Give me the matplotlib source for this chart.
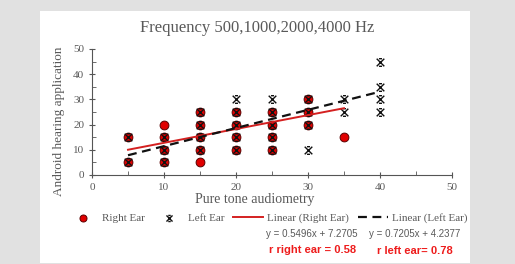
import numpy as np
import matplotlib
matplotlib.use('Agg')
import matplotlib.pyplot as plt
from matplotlib.path import Path

# data
right_x = [5, 5, 10, 10, 10, 10, 15, 15, 15, 15, 15, 20, 20, 20, 20, 25, 25, 25, 25, 30, 30, 30, 35]
right_y = [5, 15, 5, 10, 15, 20, 5, 10, 15, 20, 25, 10, 15, 20, 25, 10, 15, 20, 25, 20, 25, 30, 15]
left_x = [5, 5, 10, 10, 10, 15, 15, 15, 15, 20, 20, 20, 20, 20, 25, 25, 25, 25, 25,
          30, 30, 30, 30, 35, 35, 40, 40, 40, 40]
left_y = [5, 15, 5, 10, 15, 10, 15, 20, 25, 10, 15, 20, 25, 30, 10, 15, 20, 25, 30,
          10, 20, 25, 30, 25, 30, 25, 30, 35, 45]
right_fit = [0.5496, 7.2705]
left_fit = [0.7205, 4.2377]
right_r = 0.58
left_r = 0.78

grey = '#595959'
serif = ['Liberation Serif', 'DejaVu Serif']
sans = ['Liberation Sans', 'DejaVu Sans']

# excel style x marker (x with short caps)
xcap = Path([(-1, -1), (1, 1), (-1, 1), (1, -1), (-0.4, 1), (0.4, 1), (-0.4, -1), (0.4, -1)],
            [Path.MOVETO, Path.LINETO] * 4)

fig = plt.figure(figsize=(5.15, 2.64), dpi=100)
fig.patch.set_facecolor('#e1e1e1')
# white panel
fig.add_artist(plt.Rectangle((40 / 515, 1 / 264), 430 / 515, 252 / 264,
                             transform=fig.transFigure, facecolor='white',
                             edgecolor='none', zorder=0))

ax = fig.add_axes([92 / 515, 89 / 264, 360 / 515, 126 / 264])
ax.set_facecolor('none')

ax.scatter(right_x, right_y, s=40, color='#e00000', edgecolor='#5a0000',
           linewidth=0.7, zorder=3, label='Right Ear')
ax.scatter(left_x, left_y, s=30, marker=xcap, color='#111111', linewidth=1.0,
           zorder=4, label='Left Ear')

xr = np.array([min(right_x), max(right_x)])
xl = np.array([min(left_x), max(left_x)])
ax.plot(xr, np.polyval(right_fit, xr), color='#d42020', lw=1.4, zorder=5,
        label='Linear (Right Ear)')
ax.plot(xl, np.polyval(left_fit, xl), color='#111111', lw=1.6, ls=(0, (4, 2.5)),
        zorder=5, label='Linear (Left Ear)')

ax.set_xlim(0, 50)
ax.set_ylim(0, 50)
ax.set_xticks(range(0, 51, 10))
ax.set_yticks(range(0, 51, 10))
ax.set_xticks(range(5, 50, 10), minor=True)
ax.set_yticks(range(5, 50, 10), minor=True)
for s in ['top', 'right']:
    ax.spines[s].set_visible(False)
for s in ['left', 'bottom']:
    ax.spines[s].set_color('#555555')
ax.tick_params(which='major', direction='inout', length=5, color='#555555',
               labelsize=8, labelcolor=grey, pad=3)
ax.tick_params(which='minor', direction='in', length=3, color='#555555')
for lab in ax.get_xticklabels() + ax.get_yticklabels():
    lab.set_family(serif)

ax.set_xlabel('Pure tone audiometry', family=serif, fontsize=10, color=grey)
ax.xaxis.set_label_coords(0.453, -0.14)
ax.set_ylabel('Android hearing application', family=serif, fontsize=9.5, color=grey)
ax.yaxis.set_label_coords(-0.075, 0.43)

fig.text(0.5, (264 - 28) / 264, 'Frequency 500,1000,2000,4000 Hz', ha='center', va='center',
         family=serif, fontsize=12, color=grey)

leg = fig.legend(loc='center', bbox_to_anchor=(0.52, (264 - 218) / 264), ncol=4, frameon=False,
                 prop={'family': serif, 'size': 8}, handlelength=2.7, columnspacing=0.8,
                 handletextpad=0.35, markerscale=0.8)
for t in leg.get_texts():
    t.set_color(grey)

fig.text(312 / 515, (264 - 234) / 264, 'y = %.4fx + %.4f' % tuple(right_fit), ha='center', va='center',
         fontsize=7, color=grey, family=sans)
fig.text(415 / 515, (264 - 234) / 264, 'y = %.4fx + %.4f' % tuple(left_fit), ha='center', va='center',
         fontsize=7, color=grey, family=sans)
fig.text(313 / 515, (264 - 250) / 264, 'r right ear = %.2f' % right_r, ha='center', va='center',
         fontsize=8, color='#ee1c1c', weight='bold', family=sans)
fig.text(415 / 515, (264 - 251) / 264, 'r left ear= %.2f' % left_r, ha='center', va='center',
         fontsize=8, color='#ee1c1c', weight='bold', family=sans)

fig.savefig('out.png', dpi=100, facecolor=fig.get_facecolor())
